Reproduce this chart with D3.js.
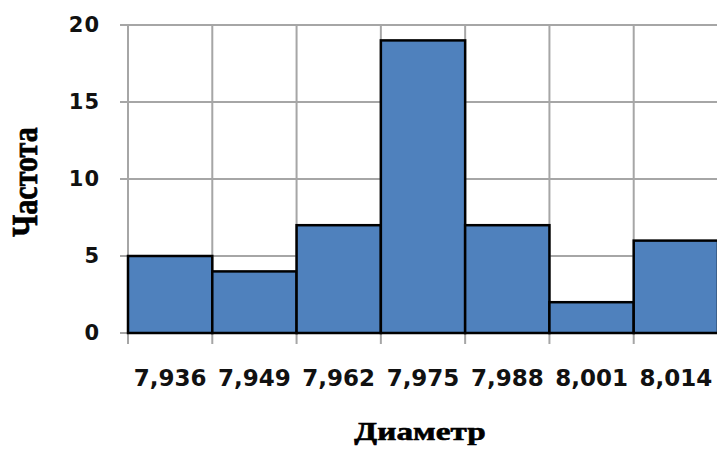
<!DOCTYPE html>
<html>
<head>
<meta charset="utf-8">
<script src="https://cdn.jsdelivr.net/npm/d3@7/dist/d3.min.js"></script>
<style>
  html, body { margin: 0; padding: 0; background: #fff; }
  svg { display: block; }
</style>
</head>
<body>
<svg id="chart" width="717" height="451"></svg>
<script>
// Histogram of measured diameters
const categories = ["7,936", "7,949", "7,962", "7,975", "7,988", "8,001", "8,014"];
const counts = [5, 4, 7, 19, 7, 2, 6];
const yTicks = [0, 5, 10, 15, 20];
const yTitle = "Частота";
const xTitle = "Диаметр";

const svg = d3.select("#chart");
const plotLeft = 128, plotRight = 718, plotTop = 25, plotBottom = 333;

const x = d3.scaleBand().domain(categories).range([plotLeft, plotRight]).paddingInner(0).paddingOuter(0);
const y = d3.scaleLinear().domain([0, 20]).range([plotBottom, plotTop]);

const gridColor = "#a6a6a6";

// horizontal gridlines (extend left as tick marks)
svg.append("g").selectAll("line").data(yTicks).join("line")
  .attr("x1", plotLeft - 8).attr("x2", plotRight)
  .attr("y1", d => y(d)).attr("y2", d => y(d))
  .attr("stroke", gridColor).attr("stroke-width", 2);

// vertical gridlines at bin boundaries (extend below as tick marks)
const edges = categories.map(c => x(c)).concat([x(categories[categories.length - 1]) + x.bandwidth()]);
svg.append("g").selectAll("line").data(edges).join("line")
  .attr("x1", d => d).attr("x2", d => d)
  .attr("y1", plotTop).attr("y2", plotBottom + 11)
  .attr("stroke", gridColor).attr("stroke-width", 2);

// bars
svg.append("g").selectAll("rect").data(counts).join("rect")
  .attr("x", (d, i) => x(categories[i]))
  .attr("y", d => y(d))
  .attr("width", x.bandwidth())
  .attr("height", d => y(0) - y(d))
  .attr("fill", "#4f81bd")
  .attr("stroke", "#000")
  .attr("stroke-width", 2.5);

// y axis labels
const yAxis = d3.axisLeft(y).tickValues(yTicks).tickSize(0).tickPadding(28).tickFormat(d3.format("d"));
const gy = svg.append("g").attr("transform", `translate(${plotLeft},0)`).call(yAxis);
gy.select(".domain").remove();
gy.selectAll("text")
  .attr("font-family", "DejaVu Sans, Verdana, sans-serif")
  .attr("font-weight", "bold")
  .attr("font-size", 21)
  .attr("letter-spacing", 1)
  .attr("fill", "#111");

// x axis labels centered under each bin
const xAxis = d3.axisBottom(x).tickSize(0).tickPadding(37);
const gx = svg.append("g").attr("transform", `translate(0,${plotBottom})`).call(xAxis);
gx.select(".domain").remove();
gx.selectAll("text")
  .attr("font-family", "DejaVu Sans, Verdana, sans-serif")
  .attr("font-weight", "bold")
  .attr("font-size", 23)
  .attr("fill", "#111");

// axis titles (wide, heavy serif)
svg.append("text")
  .attr("transform", "translate(37,182) scale(1.2,1) rotate(-90)")
  .attr("text-anchor", "middle")
  .attr("font-family", "Liberation Serif, Times New Roman, serif")
  .attr("font-weight", "bold")
  .attr("font-size", 30)
  .attr("stroke", "#000").attr("stroke-width", 0.6)
  .attr("fill", "#000")
  .text(yTitle);

svg.append("text")
  .attr("transform", "translate(420,440) scale(1.33,1)")
  .attr("text-anchor", "middle")
  .attr("font-family", "Liberation Serif, Times New Roman, serif")
  .attr("font-weight", "bold")
  .attr("font-size", 25)
  .attr("stroke", "#000").attr("stroke-width", 0.6)
  .attr("fill", "#000")
  .text(xTitle);
</script>
</body>
</html>
